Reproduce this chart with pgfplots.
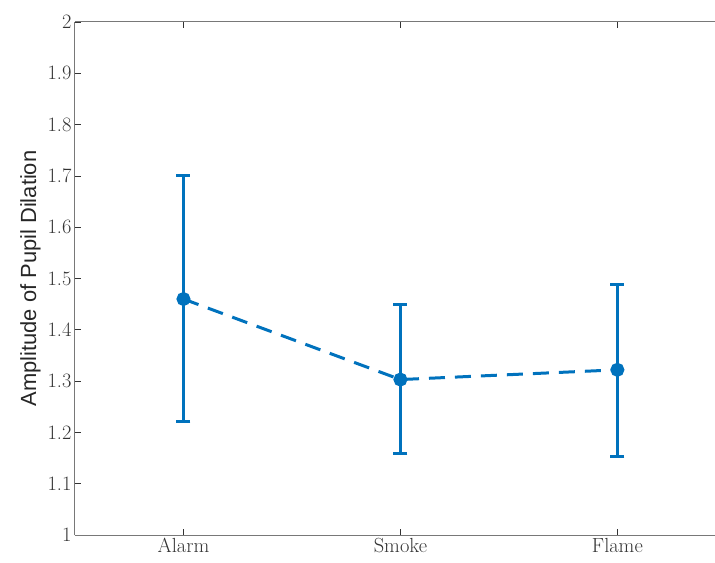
\documentclass[border=0pt]{standalone}
\usepackage{pgfplots}
\pgfplotsset{compat=1.18}
\usepackage{fontspec}
\newfontfamily\labelfont{Liberation Sans}
\definecolor{mblue}{RGB}{0,114,189}
\definecolor{axgray}{RGB}{120,120,120}
\begin{document}
\begin{tikzpicture}
\useasboundingbox (-75bp,-28bp) rectangle (640bp,535bp);
\begin{axis}[
  at={(0,0)}, anchor=south west,
  scale only axis,
  width=640bp, height=513bp,
  xmin=0.5, xmax=3.45,
  ymin=1, ymax=2,
  separate axis lines,
  axis x line*=box,
  axis y line*=left,
  axis line style={axgray, line width=1bp},
  xtick={1,2,3},
  xticklabels={Alarm,Smoke,Flame},
  ytick={1,1.1,...,2.01},
  /pgf/number format/assume math mode=true,
  yticklabel style={/pgf/number format/fixed},
  tick style={black!80, line width=0.6bp},
  major tick length=6bp,
  tick align=inside,
  xtick pos=both,
  ytick pos=left,
  tick label style={font=\fontsize{20.5}{24}\selectfont, text=black!80},
  ylabel={\labelfont Amplitude of Pupil Dilation},
  ylabel style={font=\fontsize{22}{26}\selectfont, text=black!85},
  clip=false,
]
\addplot[mblue, line width=3bp, dash pattern=on 16bp off 10bp,
  mark=*, mark size=5.5bp, mark options={solid},
  error bars/.cd, y dir=both, y explicit,
  error bar style={line width=3bp, solid, mblue},
  error mark options={rotate=90, mark size=7bp, line width=3bp, mblue}]
table[x=x, y=y, y error plus=ep, y error minus=em] {
x y ep em
1 1.460 0.240 0.238
2 1.303 0.146 0.145
3 1.322 0.166 0.169
};
\end{axis}
\end{tikzpicture}
\end{document}
